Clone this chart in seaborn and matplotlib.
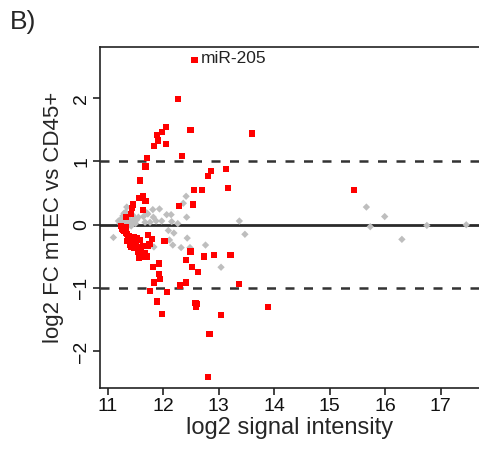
import pandas as pd
import seaborn as sns
import matplotlib.pyplot as plt

# significant miRNAs (red squares)
sig_x = [12.56, 12.26, 12.05, 11.98, 11.88, 11.90, 11.83, 12.05, 12.49, 13.60,
         12.34, 11.71, 11.68, 11.58, 12.86, 12.81, 13.13, 12.55, 12.70, 13.17,
         15.43, 11.64, 11.56, 11.68, 11.45, 11.44, 11.64, 12.28, 12.54, 11.41,
         11.32, 11.28, 11.28, 11.32, 11.37, 11.42, 11.46, 11.52, 11.58, 11.72,
         11.79, 11.48, 11.55, 11.61, 11.70, 11.72, 11.64, 11.40, 11.34, 12.02,
         11.56, 12.49, 12.41, 12.73, 12.92, 13.21, 11.92, 11.81, 12.51, 12.62,
         11.92, 11.94, 11.83, 12.41, 12.30, 11.76, 12.07, 13.36, 11.88, 12.58,
         12.61, 12.59, 11.98, 13.88, 13.04, 12.83, 12.81,
         11.24, 11.30, 11.35, 11.40, 11.44, 11.50, 11.36, 11.47, 11.53, 11.60,
         11.66, 11.42, 11.75, 11.26, 11.33]
sig_y = [2.60, 1.99, 1.55, 1.46, 1.42, 1.33, 1.25, 1.27, 1.50, 1.44,
         1.09, 1.05, 0.92, 0.70, 0.85, 0.77, 0.88, 0.55, 0.55, 0.58,
         0.55, 0.46, 0.42, 0.37, 0.32, 0.27, 0.23, 0.30, 0.32, 0.17,
         0.12, -0.05, -0.08, -0.13, -0.18, -0.24, -0.29, -0.21, -0.24, -0.16,
         -0.22, -0.37, -0.42, -0.50, -0.50, -0.34, -0.34, -0.32, -0.26, -0.26,
         -0.53, -0.42, -0.55, -0.50, -0.48, -0.48, -0.61, -0.67, -0.67, -0.74,
         -0.78, -0.85, -0.91, -0.91, -0.96, -1.04, -1.06, -0.93, -1.21, -1.23,
         -1.25, -1.29, -1.41, -1.30, -1.43, -1.73, -2.40,
         -0.02, -0.10, -0.14, -0.20, -0.27, -0.31, -0.22, -0.20, -0.36, -0.38,
         -0.44, -0.35, -0.30, -0.06, -0.03]

# non-significant miRNAs (grey diamonds)
ns_x = [11.34, 11.29, 11.25, 11.28, 11.30, 11.33, 11.36, 11.38, 11.40, 11.42,
        11.45, 11.48, 11.50, 11.35, 11.27, 11.32, 11.45, 11.52, 11.55, 11.22,
        11.19, 11.81, 11.93, 12.41, 12.36, 12.42, 12.06, 12.14, 11.72, 11.82,
        11.97, 12.15, 12.26, 11.87, 11.76, 11.67, 12.09, 12.19, 12.11, 12.17,
        12.32, 12.43, 12.76, 12.48, 11.83, 11.10, 13.04, 13.37, 13.47, 15.66,
        15.99, 15.73, 16.30, 16.75, 17.46, 11.70, 11.64]
ns_y = [0.28, 0.18, 0.10, 0.05, 0.00, 0.08, 0.12, 0.03, 0.06, -0.02,
        0.04, 0.10, 0.02, -0.03, 0.14, 0.20, 0.15, 0.08, 0.12, 0.02,
        0.06, 0.24, 0.25, 0.45, 0.34, 0.12, 0.16, 0.16, 0.17, 0.12,
        0.06, 0.05, 0.02, 0.06, 0.04, 0.04, -0.09, -0.13, -0.24, -0.32,
        -0.36, -0.21, -0.32, -0.36, -0.35, -0.20, -0.67, 0.06, -0.15, 0.28,
        0.13, -0.03, -0.23, -0.01, 0.00, 0.19, 0.13]

x_ticks = [11, 12, 13, 14, 15, 16, 17]
y_ticks = [-2, -1, 0, 1, 2]

sig = pd.DataFrame({"A": sig_x, "M": sig_y})
ns = pd.DataFrame({"A": ns_x, "M": ns_y})

sns.set_style("white")
plt.rcParams["font.family"] = ["Liberation Sans", "DejaVu Sans"]

fig = plt.figure(figsize=(4.79, 4.5), dpi=100)
ax = fig.add_axes([0.209, 0.138, 0.791, 0.758])

ax.axhline(0, color="#2a2a2a", lw=2.0, zorder=1)
for h in (1, -1):
    ax.axhline(h, color="#333333", lw=1.8, ls=(0, (3.6, 3.8)), zorder=1)

sns.scatterplot(data=ns, x="A", y="M", ax=ax, marker="D", s=14,
                color="#BEBEBE", edgecolor="none", linewidth=0, zorder=2)
sns.scatterplot(data=sig, x="A", y="M", ax=ax, marker="s", s=20,
                color="#FF0000", edgecolor="none", linewidth=0, zorder=3)

ax.text(12.68, 2.63, "miR-205", fontsize=12.5, va="center", color="#222222")

ax.set_xlim(10.86, 17.69)
ax.set_ylim(-2.575, 2.81)
ax.set_xticks(x_ticks)
ax.set_yticks(y_ticks)
ax.set_yticklabels([str(t).replace("-", "\u2212") for t in y_ticks],
                   rotation=90, va="center")
ax.tick_params(axis="both", direction="out", length=5, width=1.2,
               color="#222222", labelsize=14, labelcolor="#111111", pad=2,
               bottom=True, left=True)
for side in ("left", "bottom", "top"):
    ax.spines[side].set_color("#222222")
    ax.spines[side].set_linewidth(1.2)
ax.spines["right"].set_visible(False)

ax.set_xlabel("log2 signal intensity", fontsize=17, labelpad=2)
ax.set_ylabel("log2 FC mTEC vs CD45+", fontsize=16, labelpad=7)

fig.text(0.02, 0.95, "B)", fontsize=19, va="center", ha="left")

fig.savefig("out.png", dpi=100)
